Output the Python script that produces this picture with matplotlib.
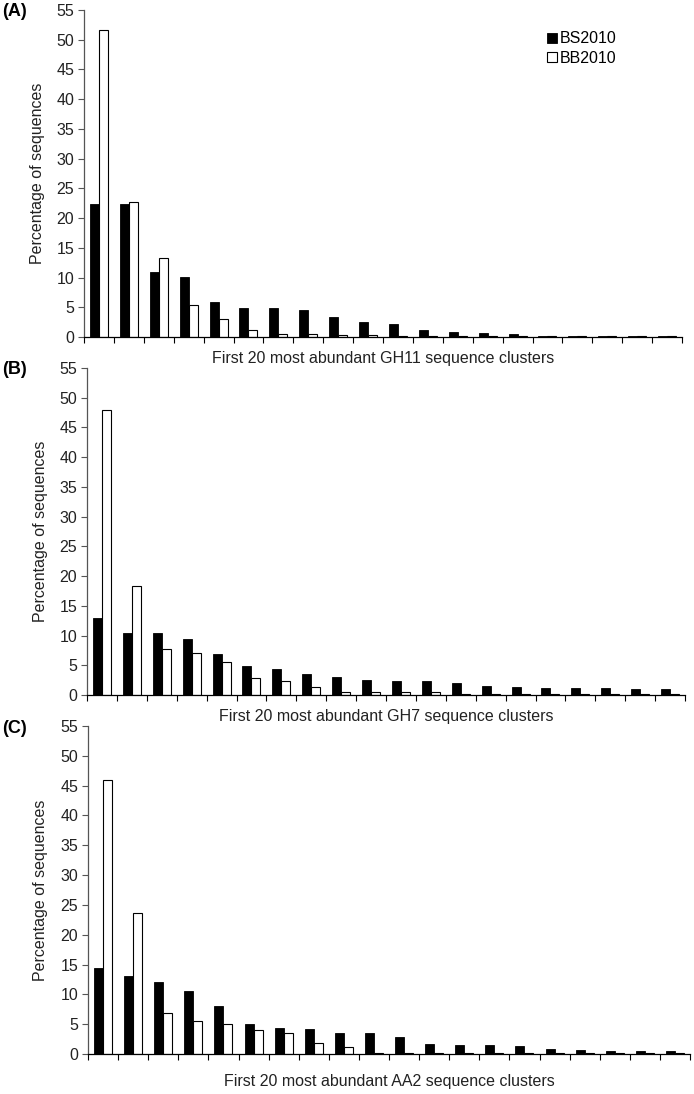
import numpy as np
from matplotlib import pyplot as plt

plt.rcParams['font.family'] = ['Liberation Sans', 'DejaVu Sans']

series_names = ['BS2010', 'BB2010']
panel_tags = ['(A)', '(B)', '(C)']
families = ['GH11', 'GH7', 'AA2']

# panel A - GH11
bs_a = [22.3, 22.3, 10.9, 10.1, 5.9, 4.9, 4.8, 4.6, 3.4, 2.6,
        2.2, 1.2, 0.85, 0.6, 0.45, 0.2, 0.2, 0.2, 0.2, 0.2]
bb_a = [51.6, 22.7, 13.3, 5.3, 3.0, 1.1, 0.5, 0.5, 0.4, 0.3,
        0.2, 0.2, 0.15, 0.1, 0.1, 0.15, 0.15, 0.15, 0.15, 0.15]
# panel B - GH7
bs_b = [12.9, 10.4, 10.4, 9.4, 6.9, 4.8, 4.4, 3.5, 3.0, 2.5,
        2.3, 2.3, 2.1, 1.5, 1.3, 1.1, 1.1, 1.1, 0.95, 0.95]
bb_b = [48.0, 18.3, 7.7, 7.1, 5.6, 2.9, 2.3, 1.3, 0.5, 0.5,
        0.5, 0.5, 0.2, 0.2, 0.2, 0.2, 0.2, 0.2, 0.2, 0.2]
# panel C - AA2
bs_c = [14.5, 13.1, 12.1, 10.6, 8.1, 5.0, 4.4, 4.2, 3.6, 3.6,
        2.9, 1.7, 1.5, 1.5, 1.3, 0.9, 0.75, 0.55, 0.55, 0.5]
bb_c = [46.0, 23.6, 6.9, 5.5, 5.1, 4.0, 3.6, 1.8, 1.2, 0.2,
        0.2, 0.2, 0.2, 0.2, 0.2, 0.2, 0.2, 0.2, 0.2, 0.1]

yticks = list(range(0, 60, 5))

fig = plt.figure(figsize=[6.94, 10.94], dpi=100, facecolor='white')
W, H = 694.0, 1094.0

# axes boxes in pixels: left, right, top, bottom
boxes = [(84, 682, 10, 337), (87, 685, 368, 695), (88, 690, 726, 1054)]
xlab_off = [-0.044, -0.044, -0.062]
tag_y = [3, 361, 720]
data = [(bs_a, bb_a), (bs_b, bb_b), (bs_c, bb_c)]

for i in range(3):
    l, r, t, b = boxes[i]
    ax = fig.add_axes([l / W, 1 - b / H, (r - l) / W, (b - t) / H])
    bs, bb = data[i]
    x = np.arange(len(bs))
    ax.bar(x - 0.15, bs, width=0.3, color='black', edgecolor='black', lw=0.6, label=series_names[0])
    ax.bar(x + 0.15, bb, width=0.3, color='white', edgecolor='black', lw=0.8, label=series_names[1])

    ax.set_xlim(-0.5, len(bs) - 0.5)
    ax.set_ylim(0, 55)
    ax.set_yticks(yticks)
    ax.set_xticks(np.arange(len(bs) + 1) - 0.5)
    ax.set_xticklabels([])
    ax.tick_params(axis='y', direction='out', length=4, width=0.8, color='#555555',
                   labelsize=11.5, labelcolor='#222222', pad=3)
    ax.tick_params(axis='x', direction='out', length=4, width=0.8, color='black')

    ax.spines['top'].set_visible(False)
    ax.spines['right'].set_visible(False)
    ax.spines['left'].set_color('#555555')
    ax.spines['left'].set_linewidth(0.9)
    ax.spines['bottom'].set_linewidth(0.9)

    ax.set_ylabel('Percentage of sequences', fontsize=11.5, color='#222222')
    ax.yaxis.set_label_coords(-0.066, 0.5)
    ax.set_xlabel('First 20 most abundant %s sequence clusters' % families[i], fontsize=11.5, color='#222222')
    ax.xaxis.set_label_coords(0.5, xlab_off[i])

    fig.text(2 / W, 1 - tag_y[i] / H, panel_tags[i], fontsize=13, fontweight='bold', va='top', ha='left')

    if i == 0:
        ax.legend(loc='upper left', bbox_to_anchor=(0.775, 0.935), frameon=False, fontsize=11.5,
                  handlelength=0.6, handleheight=0.6, handletextpad=0.2, labelspacing=0.3,
                  borderpad=0, borderaxespad=0)

plt.savefig('out.png', dpi=100, facecolor='white')
